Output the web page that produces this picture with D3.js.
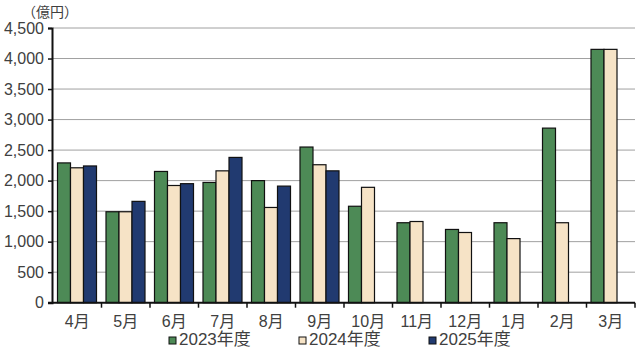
<!DOCTYPE html>
<html>
<head>
<meta charset="utf-8">
<script src="https://cdn.jsdelivr.net/npm/d3@7"></script>
<style>
  body { margin: 0; background: #fff; }
  svg text { font-family: "Liberation Sans", "Noto Sans CJK JP", sans-serif; fill: #404040; }
</style>
</head>
<body>
<svg id="chart" width="640" height="354"></svg>
<script>
// months of the fiscal year
var months = ['4月', '5月', '6月', '7月', '8月', '9月', '10月', '11月', '12月', '1月', '2月', '3月'];
var seriesNames = ['2023年度', '2024年度', '2025年度'];
var fy2023 = [2290, 1490, 2150, 1970, 2000, 2550, 1580, 1310, 1200, 1310, 2860, 4150];
var fy2024 = [2210, 1490, 1920, 2160, 1560, 2260, 1890, 1330, 1150, 1050, 1310, 4150];
var fy2025 = [2240, 1660, 1950, 2380, 1910, 2160];
var yTicks = [0, 500, 1000, 1500, 2000, 2500, 3000, 3500, 4000, 4500];
var colors = ['#4d8a56', '#f6e3c6', '#213a70'];

var svg = d3.select('#chart');
var plotLeft = 53, plotRight = 635, plotTop = 28, plotBottom = 302.7;

var x = d3.scaleBand().domain(months).range([plotLeft, plotRight]);
var slot = d3.scaleBand().domain([0, 1, 2]).range([4.5, 43.5]);
var y = d3.scaleLinear().domain([0, 4500]).range([plotBottom, plotTop]);

// gridlines
svg.append('g')
    .selectAll('line')
    .data(yTicks.slice(1))
    .enter()
    .append('line')
    .attr('x1', plotLeft).attr('x2', plotRight)
    .attr('y1', function(d) { return y(d); })
    .attr('y2', function(d) { return y(d); })
    .attr('stroke', '#a0a0a0')
    .attr('stroke-width', 1);

var series = [fy2023, fy2024, fy2025];
series.forEach(function(values, si) {
    svg.append('g')
        .selectAll('rect')
        .data(values)
        .enter()
        .append('rect')
        .attr('x', function(d, i) { return x(months[i]) + slot(si); })
        .attr('width', slot.bandwidth())
        .attr('y', function(d) { return y(d); })
        .attr('height', function(d) { return y(0) - y(d); })
        .attr('fill', colors[si])
        .attr('stroke', '#111')
        .attr('stroke-width', 1.2);
});

// y axis
var yAxis = svg.append('g')
    .attr('transform', 'translate(' + (plotLeft - 1) + ',0)')
    .call(d3.axisLeft(y).tickValues(yTicks).tickSize(4).tickPadding(4).tickFormat(d3.format(',')));
yAxis.select('.domain').attr('stroke', '#111').attr('stroke-width', 2);
yAxis.selectAll('.tick line').attr('stroke', '#111').attr('stroke-width', 1.5);
yAxis.selectAll('text').style('font-size', '16px').attr('fill', '#404040');

// x axis
var xAxis = svg.append('g')
    .attr('transform', 'translate(0,' + plotBottom + ')');
xAxis.append('line')
    .attr('x1', plotLeft - 5).attr('x2', plotRight)
    .attr('stroke', '#111').attr('stroke-width', 2);
xAxis.selectAll('line.tk')
    .data(months)
    .enter()
    .append('line')
    .attr('class', 'tk')
    .attr('x1', function(d) { return x(d) + x.bandwidth(); })
    .attr('x2', function(d) { return x(d) + x.bandwidth(); })
    .attr('y1', 0).attr('y2', 5)
    .attr('stroke', '#111').attr('stroke-width', 1.5);
xAxis.selectAll('text')
    .data(months)
    .enter()
    .append('text')
    .attr('x', function(d) { return x(d) + x.bandwidth() / 2; })
    .attr('y', 24)
    .attr('text-anchor', 'middle')
    .style('font-size', '16px')
    .text(function(d) { return d; });

// unit label
svg.append('text')
    .attr('x', 22).attr('y', 17)
    .style('font-family', '"Noto Sans CJK JP", sans-serif')
    .style('font-size', '14px')
    .text('（億円）');

// legend
var legendX = [169, 299, 429];
var legend = svg.append('g')
    .selectAll('g')
    .data(seriesNames)
    .enter()
    .append('g')
    .attr('transform', function(d, i) { return 'translate(' + legendX[i] + ',337)'; });
legend.append('rect')
    .attr('width', 7).attr('height', 7)
    .attr('fill', function(d, i) { return colors[i]; })
    .attr('stroke', '#111').attr('stroke-width', 1);
legend.append('text')
    .attr('x', 10).attr('y', 8)
    .style('font-size', '17px')
    .text(function(d) { return d; });
</script>
</body>
</html>
